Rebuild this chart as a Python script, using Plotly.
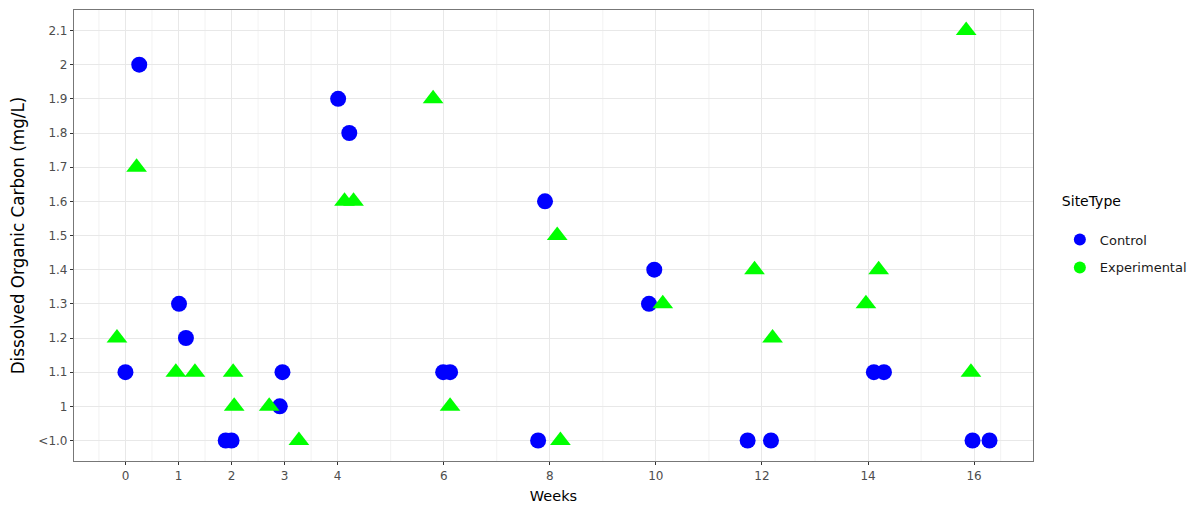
import plotly.graph_objects as go

# Levels of the discrete y axis (bottom to top)
doc_levels = ["<1.0", "1", "1.1", "1.2", "1.3", "1.4", "1.5", "1.6", "1.7", "1.8", "1.9", "2", "2.1"]

# Control sites (jittered weeks)
control_weeks = [0.26, 0.00, 1.01, 1.14, 1.89, 2.00, 2.96, 2.91, 4.01, 4.22,
                 5.99, 6.12, 7.78, 7.91, 9.97, 9.87, 11.73, 12.17, 14.11, 14.30, 15.97, 16.29]
control_doc = ["2", "1.1", "1.3", "1.2", "<1.0", "<1.0", "1.1", "1", "1.9", "1.8",
               "1.1", "1.1", "<1.0", "1.6", "1.4", "1.3", "<1.0", "<1.0", "1.1", "1.1", "<1.0", "<1.0"]

# Experimental sites (jittered weeks)
exp_weeks = [-0.16, 0.21, 0.95, 1.31, 2.03, 2.05, 2.71, 3.27, 4.13, 4.30,
             5.80, 6.12, 8.14, 8.20, 10.13, 11.86, 12.20, 13.96, 14.20, 15.85, 15.94]
exp_doc = ["1.2", "1.7", "1.1", "1.1", "1.1", "1", "1", "<1.0", "1.6", "1.6",
           "1.9", "1", "1.5", "<1.0", "1.3", "1.4", "1.2", "1.3", "1.4", "2.1", "1.1"]

x_ticks = [0, 1, 2, 3, 4, 6, 8, 10, 12, 14, 16]
x_minor = [-0.5, 0.5, 1.5, 2.5, 3.5, 5, 7, 9, 11, 13, 15, 16.5]

blue = "#0000FF"
green = "#00FF00"
FONT = "DejaVu Sans, Liberation Sans, Arial, sans-serif"

fig = go.Figure()
fig.add_trace(go.Scatter(x=control_weeks, y=control_doc, mode="markers", name="Control",
                         marker=dict(symbol="circle", size=16, color=blue), showlegend=False))
fig.add_trace(go.Scatter(x=exp_weeks, y=exp_doc, mode="markers", name="Experimental",
                         marker=dict(symbol="triangle-up", size=18, color=green), showlegend=False))
# legend entries (circles, as in the reference)
fig.add_trace(go.Scatter(x=[None], y=[None], mode="markers", name="Control", legendgroup="c",
                         marker=dict(symbol="circle", size=16, color=blue)))
fig.add_trace(go.Scatter(x=[None], y=[None], mode="markers", name="Experimental", legendgroup="e",
                         marker=dict(symbol="circle", size=16, color=green)))

# minor vertical gridlines
for xm in x_minor:
    fig.add_shape(type="line", xref="x", yref="paper", x0=xm, x1=xm, y0=0, y1=1,
                  line=dict(color="#EFEFEF", width=0.8), layer="below")

axis_common = dict(
    showgrid=True, gridcolor="#E8E8E8", gridwidth=1.4, zeroline=False,
    ticks="outside", ticklen=3, tickcolor="#333333", tickwidth=1,
    tickfont=dict(family=FONT, size=12, color="#4D4D4D"),
    showline=True, linecolor="#777777", linewidth=1.2, mirror=True,
    automargin=False,
)

fig.update_layout(
    width=1196, height=510,
    margin=dict(l=66, r=171, t=2, b=57),
    paper_bgcolor="white", plot_bgcolor="white",
    font=dict(family=FONT, color="#1A1A1A"),
    legend=dict(title=dict(text="SiteType<br>", font=dict(family=FONT, size=14, color="#000000")),
                font=dict(family=FONT, size=13, color="#1A1A1A"),
                x=1.028, xanchor="left", y=0.605, yanchor="top",
                itemsizing="constant", tracegroupgap=8),
    xaxis=dict(range=[-0.97, 17.11], tickvals=x_ticks, ticktext=[str(t) for t in x_ticks],
               title=dict(text="Weeks", font=dict(family=FONT, size=14.5, color="#000000"), standoff=9),
               **axis_common),
    yaxis=dict(type="category", categoryorder="array", categoryarray=doc_levels,
               range=[-0.6, len(doc_levels) - 0.4],
               title=dict(text="Dissolved Organic Carbon (mg/L)",
                          font=dict(family=FONT, size=16.8, color="#000000"), standoff=17),
               **axis_common),
)

fig.write_html("out.html")
